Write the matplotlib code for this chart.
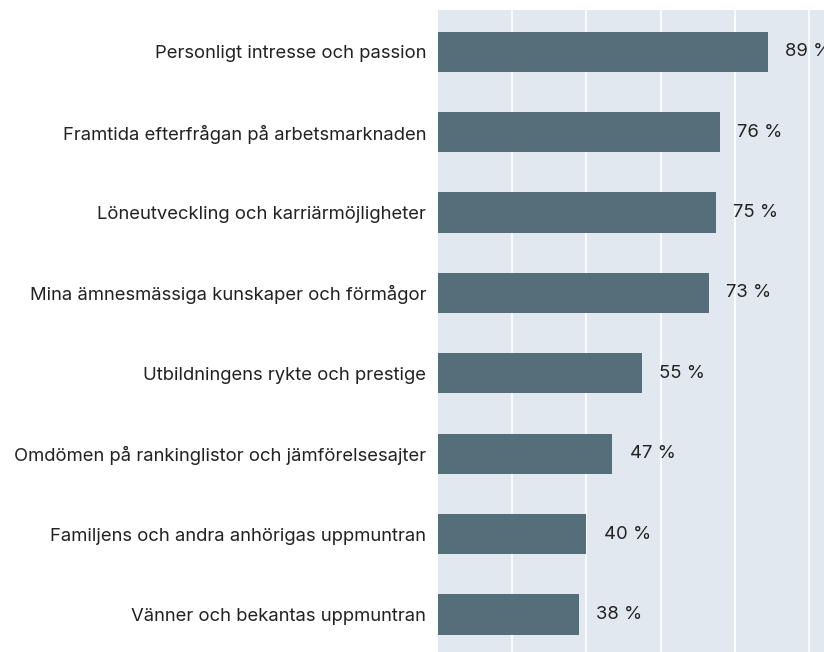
import matplotlib
matplotlib.use("Agg")
import matplotlib.pyplot as plt

categories = [
    "Personligt intresse och passion",
    "Framtida efterfrågan på arbetsmarknaden",
    "Löneutveckling och karriärmöjligheter",
    "Mina ämnesmässiga kunskaper och förmågor",
    "Utbildningens rykte och prestige",
    "Omdömen på rankinglistor och jämförelsesajter",
    "Familjens och andra anhörigas uppmuntran",
    "Vänner och bekantas uppmuntran",
]
values = [89, 76, 75, 73, 55, 47, 40, 38]
value_labels = ["89 %", "76 %", "75 %", "73 %", "55 %", "47 %", "40 %", "38 %"]
xticks = [20, 40, 60, 80, 100]

plt.rcParams['font.family'] = ['Inter', 'DejaVu Sans']

W, H = 824, 652
fig = plt.figure(figsize=(W / 100, H / 100), dpi=100)
ax = fig.add_axes([438 / W, 0, (W - 438) / W, (H - 10) / H])
ax.set_facecolor('#e1e8f0')

ypos = list(range(len(categories)))
ax.barh(ypos, values, height=0.5, color='#546e7a', zorder=3)
for y, v, lab in zip(ypos, values, value_labels):
    ax.text(v + 4.6, y, lab, va='center', ha='left', fontsize=13.3, color='#222222', zorder=4, clip_on=False)

ax.set_xlim(0, 104)
ax.set_ylim(7.466, -0.519)
ax.set_xticks(xticks)
ax.set_xticklabels([])
ax.grid(axis='x', color='white', linewidth=1.2, zorder=1)
ax.set_yticks(ypos)
ax.set_yticklabels(categories, fontsize=13.3, color='#222222')
ax.tick_params(axis='y', length=0, pad=8.6)
ax.tick_params(axis='x', length=0)
for s in ax.spines.values():
    s.set_visible(False)

fig.savefig('out.png', dpi=100)
